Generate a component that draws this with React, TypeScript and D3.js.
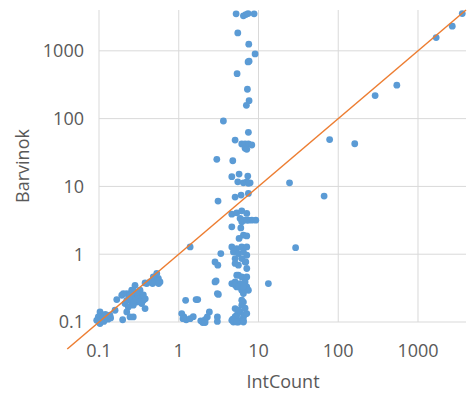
import * as d3 from "d3"
import { useEffect, useRef } from "react"

// IntCount (x) and Barvinok (y), paired by index
const intCount = [
  // tall column near 5..9
  5.24, 6.47, 6.93, 7.4, 8.81, 5.5, 7.55, 9.06, 7.4, 7.62, 5.39, 7.26, 7.62, 7.05,
  3.63, 7.47, 5.09, 6.17, 6.79, 7.47, 8.24, 6.79, 7.13, 3.0, 4.76,
  4.63, 5.71, 7.34, 5.5, 6.47, 7.13, 7.85, 7.47,
  3.11, 5.09, 6.05, 7.47, 4.63, 5.34, 6.17, 7.13,
  5.88, 6.47, 7.47, 8.24, 9.25, 6.17, 7.13, 4.63, 6.0, 6.47, 7.13, 5.71, 3.37,
  4.63, 5.34, 6.17, 7.13, 4.85, 5.6, 6.47, 7.13, 6.17, 5.09, 6.79, 7.13, 5.6, 6.93, 5.09,
  4.63, 5.09, 5.6, 6.17, 5.88, 6.79, 7.13, 6.17, 5.34, 6.47, 7.47, 5.34, 7.13, 5.09, 5.6, 6.47,
  6.47, 6.17, 5.09, 5.88, 5.34, 4.63, 6.47, 7.13, 5.88, 6.47, 5.6, 4.85, 6.47,
  6.17, 5.6, 6.79, 5.09, 6.79, 4.76, 5.34,
  // column near 1..3.5
  1.39, 2.85, 3.09, 2.85, 2.94, 3.05, 3.14, 1.22, 1.65, 1.73, 2.42,
  1.09, 1.16, 1.24, 1.39, 1.52, 1.13, 1.89, 2.14, 2.28, 3.05, 3.05, 2.0, 2.14,
  // outliers
  13.3, 24.5, 29.2, 66.5, 78.0, 161, 290, 543, 1690, 2690, 3590,
  // small cluster
  0.53, 0.48, 0.555, 0.582, 0.505, 0.436, 0.378, 0.397, 0.283, 0.327, 0.257, 0.223, 0.202, 0.193,
  0.167, 0.245, 0.283, 0.327, 0.36, 0.297, 0.257, 0.223, 0.212, 0.343, 0.269, 0.233,
  0.378, 0.159, 0.223, 0.245, 0.269, 0.198, 0.137,
  0.103, 0.113, 0.098, 0.0936, 0.108, 0.119, 0.131, 0.103,
  0.1, 0.105, 0.112, 0.12, 0.125, 0.098, 0.115, 0.13, 0.14,
  0.29, 0.31, 0.35, 0.3, 0.33, 0.27, 0.24, 0.38, 0.36, 0.269,
  0.5, 0.54, 0.47, 0.56,
]

const barvinok = [
  3508, 3280, 3426, 3540, 3508, 1836, 1251, 899, 685, 702, 460, 271, 184, 157,
  92.2, 62.8, 48.3, 42.2, 42.2, 42.2, 40.8, 36.4, 35.2, 25.1, 23.9,
  13.9, 15.2, 14.2, 11.7, 11.3, 11.7, 11.3, 11.1,
  6.07, 6.95, 7.44, 7.88, 3.9, 4.08, 4.36, 3.99,
  3.37, 3.18, 3.18, 3.18, 3.18, 3.0, 3.18, 2.53, 2.44, 1.91, 1.86, 1.71, 1.02,
  1.28, 1.21, 1.28, 1.28, 1.08, 1.02, 1.08, 0.966, 0.863, 0.863, 0.769, 0.615, 0.688, 0.769, 0.73,
  0.369, 0.39, 0.49, 0.462, 0.369, 0.39, 0.329, 0.294, 0.329, 0.263, 0.294, 0.49, 0.462, 0.35, 0.33, 0.34,
  0.197, 0.177, 0.158, 0.141, 0.126, 0.106, 0.119, 0.133, 0.106, 0.105, 0.1, 0.1, 0.1,
  0.21, 0.15, 0.16, 0.12, 0.13, 0.11, 0.1,
  1.28, 0.769, 0.688, 0.39, 0.403, 0.263, 0.255, 0.209, 0.214, 0.214, 0.141,
  0.133, 0.119, 0.108, 0.112, 0.12, 0.112, 0.104, 0.108, 0.119, 0.119, 0.102, 0.098, 0.098,
  0.369, 11.3, 1.25, 7.2, 49.1, 42.6, 219, 311, 1566, 2306, 3540,
  0.519, 0.462, 0.438, 0.39, 0.39, 0.39, 0.377, 0.369, 0.348, 0.294, 0.294, 0.263, 0.263, 0.248,
  0.214, 0.248, 0.234, 0.222, 0.209, 0.197, 0.197, 0.209, 0.187, 0.187, 0.177, 0.167,
  0.158, 0.149, 0.141, 0.119, 0.119, 0.108, 0.126,
  0.141, 0.126, 0.119, 0.106, 0.106, 0.112, 0.12, 0.095,
  0.1, 0.11, 0.115, 0.13, 0.12, 0.105, 0.102, 0.11, 0.115,
  0.27, 0.25, 0.24, 0.22, 0.2, 0.21, 0.23, 0.22, 0.25, 0.294,
  0.42, 0.4, 0.37, 0.37,
]

const ticks = [0.1, 1, 10, 100, 1000]
const tickLabels = ["0.1", "1", "10", "100", "1000"]
const domain = [0.1, 4000]
const diagonal = [0.04, 4000]

const W = 471
const H = 394
const FONT = "'Open Sans', sans-serif"

export default function App() {
  const ref = useRef<SVGSVGElement>(null)

  useEffect(() => {
    const svg = d3.select(ref.current)
    svg.selectAll("*").remove()

    const margin = { top: 10, right: 5, bottom: 72, left: 99 }
    const x = d3.scaleLog().domain(domain).range([margin.left, W - margin.right])
    const y = d3.scaleLog().domain(domain).range([H - margin.bottom, margin.top])

    const grid = svg.append("g").attr("stroke", "#d9d9d9").attr("stroke-width", 1)
    grid
      .selectAll("line.v")
      .data(ticks)
      .join("line")
      .attr("x1", (d) => x(d))
      .attr("x2", (d) => x(d))
      .attr("y1", y(domain[1]))
      .attr("y2", y(domain[0]))
    grid
      .selectAll("line.h")
      .data(ticks)
      .enter()
      .append("line")
      .attr("x1", x(domain[0]))
      .attr("x2", x(domain[1]))
      .attr("y1", (d) => y(d))
      .attr("y2", (d) => y(d))

    const txt = svg.append("g").attr("font-family", FONT).attr("font-size", 18).attr("fill", "#595959")
    txt
      .selectAll("text.x")
      .data(ticks)
      .join("text")
      .attr("x", (d) => x(d))
      .attr("y", H - margin.bottom + 35)
      .attr("text-anchor", "middle")
      .text((d, i) => tickLabels[i])
    txt
      .selectAll("text.y")
      .data(ticks)
      .enter()
      .append("text")
      .attr("x", margin.left - 15)
      .attr("y", (d) => y(d))
      .attr("dy", "0.35em")
      .attr("text-anchor", "end")
      .text((d, i) => tickLabels[i])
    txt
      .append("text")
      .attr("x", 283)
      .attr("y", H - 6)
      .attr("text-anchor", "middle")
      .text("IntCount")
    txt
      .append("text")
      .attr("transform", `translate(28.5,${(y(domain[0]) + y(domain[1])) / 2}) rotate(-90)`)
      .attr("text-anchor", "middle")
      .text("Barvinok")

    const pts = intCount.map((v, i) => [v, barvinok[i]])
    svg
      .append("g")
      .selectAll("circle")
      .data(pts)
      .join("circle")
      .attr("cx", (d) => x(d[0]))
      .attr("cy", (d) => y(d[1]))
      .attr("r", 3.4)
      .attr("fill", "#5b9bd5")

    const line = d3
      .line<number>()
      .x((d) => x(d))
      .y((d) => y(d))
    svg
      .append("path")
      .datum(diagonal)
      .attr("fill", "none")
      .attr("stroke", "#ed7d31")
      .attr("stroke-width", 1.5)
      .attr("d", line)
  }, [])

  return (
    <svg
      ref={ref}
      width={W}
      height={H}
      style={{ position: "absolute", left: 0, top: 0, background: "#fff" }}
    />
  )
}
